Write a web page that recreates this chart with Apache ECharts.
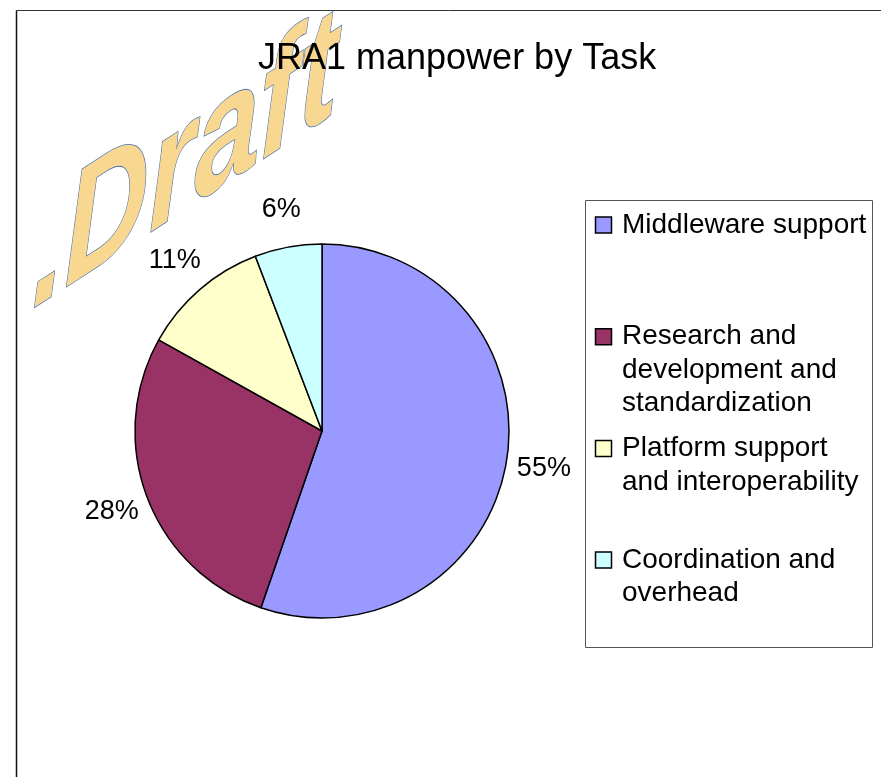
<!DOCTYPE html>
<html><head><meta charset="utf-8">
<script src="https://cdn.jsdelivr.net/npm/echarts@6/dist/echarts.min.js"></script>
<style>html,body{margin:0;padding:0;background:#fff}#c{width:881px;height:777px}</style>
</head><body><div id="c"></div>
<script>
// ---- data ----
const titleText = 'JRA1 manpower by Task';
const categories = ['Middleware support', 'Research and development and standardization', 'Platform support and interoperability', 'Coordination and overhead'];
const legendLines = [['Middleware support'], ['Research and', 'development and', 'standardization'], ['Platform support', 'and interoperability'], ['Coordination and', 'overhead']];
const values = [55.3, 27.8, 11.1, 5.8];
const colors = ['#9999FF', '#993366', '#FFFFCC', '#CCFFFF'];
const watermarkText = '.Draft';

// ---- layout ----
const FONT = '"Liberation Sans", Arial, sans-serif';
const cx = 322, cy = 431, pieR = 187, labelR = 225;
const total = values.reduce((a, b) => a + b, 0);

const chart = echarts.init(document.getElementById('c'), null, {renderer: 'canvas'});

const graphics = [
  {type: 'line', z: 1, shape: {x1: 16.5, y1: 10.5, x2: 881, y2: 10.5}, style: {stroke: '#333', lineWidth: 1}},
  {type: 'line', z: 1, shape: {x1: 16.5, y1: 10.5, x2: 16.5, y2: 777}, style: {stroke: '#111', lineWidth: 1.5}},
  {type: 'rect', z: 1, shape: {x: 585.5, y: 200.5, width: 287, height: 447}, style: {fill: '#fff', stroke: '#555', lineWidth: 1}}
];
legendLines.forEach((lines, i) => {
  const yc = 225 + 111.7 * i;
  graphics.push({type: 'rect', z: 2, shape: {x: 595.5, y: yc - 8, width: 16, height: 16}, style: {fill: colors[i], stroke: '#000', lineWidth: 1.5}});
  lines.forEach((t, j) => {
    graphics.push({type: 'text', z: 2, x: 622, y: yc + 33.5 * j, style: {text: t, font: '28px ' + FONT, fill: '#000', verticalAlign: 'middle', align: 'left'}});
  });
});
graphics.push({
  type: 'text', z: 3, x: 32, y: 344, scaleX: 0.75, skewY: 33 * Math.PI / 180,
  style: {text: watermarkText, font: 'italic bold 156px ' + FONT, fill: '#F8D790', stroke: '#4169B0', lineWidth: 1.5, verticalAlign: 'bottom', align: 'left'}
});

chart.setOption({
  animation: false,
  backgroundColor: '#fff',
  title: {z: 10, text: titleText, left: 258, top: 41, padding: 0, textStyle: {fontFamily: FONT, fontSize: 36, fontWeight: 'normal', color: '#000'}},
  graphic: graphics,
  series: [{
    type: 'pie', center: [cx, cy], radius: pieR, startAngle: 90, clockwise: true,
    data: categories.map((n, i) => ({name: n, value: values[i], itemStyle: {color: colors[i]}})),
    itemStyle: {borderColor: '#000', borderWidth: 1.5},
    label: {show: true, position: 'outside', formatter: p => Math.round(p.percent) + '%', fontSize: 27, fontFamily: FONT, color: '#000'},
    labelLine: {show: false},
    labelLayout: function (params) {
      let cum = 0;
      for (let i = 0; i < params.dataIndex; i++) cum += values[i];
      const mid = (cum + values[params.dataIndex] / 2) / total * 2 * Math.PI;
      return {x: cx + labelR * Math.sin(mid), y: cy - labelR * Math.cos(mid), align: 'center', verticalAlign: 'middle'};
    },
    emphasis: {disabled: true}, silent: true
  }]
});
</script></body></html>
